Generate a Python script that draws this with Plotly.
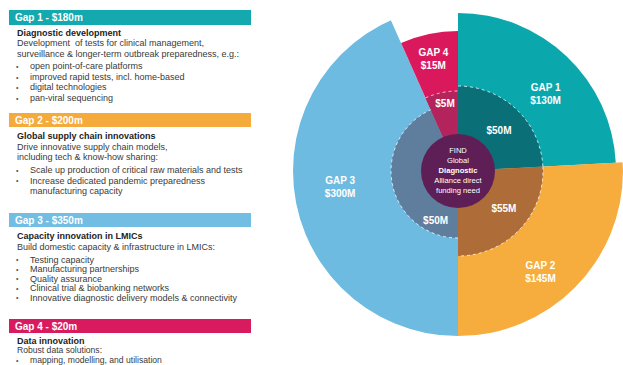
import numpy as np
import plotly.graph_objects as go

W, H = 623, 365

# ---------------- data ----------------
gap_names = ["Gap 1", "Gap 2", "Gap 3", "Gap 4"]
gap_totals = [180, 200, 350, 20]
gap_titles = ["Diagnostic development", "Global supply chain innovations",
              "Capacity innovation in LMICs", "Data innovation"]
gap_intro = [
    ["Development  of tests for clinical management,",
     "surveillance & longer-term outbreak preparedness, e.g.:"],
    ["Drive innovative supply chain models,",
     "including tech & know-how sharing:"],
    ["Build domestic capacity & infrastructure in LMICs:"],
    ["Robust data solutions:"],
]
gap_bullets = [
    ["open point-of-care platforms", "improved rapid tests, incl. home-based",
     "digital technologies", "pan-viral sequencing"],
    ["Scale up production of critical raw materials and tests",
     "Increase dedicated pandemic preparedness", "manufacturing capacity"],
    ["Testing capacity", "Manufacturing partnerships", "Quality assurance",
     "Clinical trial & biobanking networks",
     "Innovative diagnostic delivery models & connectivity"],
    ["mapping, modelling, and utilisation"],
]
# bullet lines that are continuations of the previous bullet (no bullet mark)
bullet_continuation = [[], [2], [], []]

ring_labels = ["GAP 1", "GAP 2", "GAP 3", "GAP 4"]
outer_values = [130, 145, 300, 15]
inner_values = [50, 55, 50, 5]
center_lines = ["FIND", "Global", "<b>Diagnostic</b>", "Alliance direct", "funding need"]

# ---------------- geometry / style ----------------
FONT = "Arial, Liberation Sans, sans-serif"
header_colors = ["#14A9AE", "#F5AA3C", "#71BDE3", "#D81B5E"]
outer_colors = ["#0AA8AD", "#F6AD3D", "#6EBBE2", "#DA195C"]
inner_colors = ["#0B6F78", "#AD6C38", "#5F7E9D", "#B3245C"]
center_color = "#5D1F56"

sector_span = [87, 93, 156, 24]          # degrees, clockwise from 12 o'clock
outer_radius = [158, 172, 181, 140]
inner_radius = [85, 85, 67, 80]
center_radius = 37
outer_label_pos = [(116, 49), (131, 141), (119, 262), (114, 347.5)]
inner_label_pos = [(57, 46), (60, 130), (55, 204), (68, 349)]

# left panel layout (pixels from top)
bar_x0, bar_x1 = 9, 251
bar_y = [(10, 25), (113, 127), (213, 227), (319, 333)]
title_y = [32.5, 136, 236.5, 340.5]
intro_step = [10.5, 10.5, 10.5, 9.8]
bullet_start = [66.5, 170, 259.5, 360]
bullet_step = [10.5, 10.5, 9.6, 9.6]
body_size = [9, 9, 9, 8.6]

center_px = (458, 171)
rho = W - center_px[0]

starts = np.concatenate([[0], np.cumsum(sector_span)[:-1]])
centers = starts + np.array(sector_span) / 2.0

fig = go.Figure()

# outer ring
fig.add_trace(go.Barpolar(
    r=outer_radius, theta=centers, width=sector_span,
    marker=dict(color=outer_colors, line=dict(width=0)),
    hoverinfo="skip", showlegend=False))
# inner ring
fig.add_trace(go.Barpolar(
    r=inner_radius, theta=centers, width=sector_span,
    marker=dict(color=inner_colors, line=dict(width=0)),
    hoverinfo="skip", showlegend=False))
# thin dotted outline on the inner arcs
for s, w, rr in zip(starts, sector_span, inner_radius):
    th = np.linspace(s, s + w, 40)
    fig.add_trace(go.Scatterpolar(
        r=[rr] * len(th), theta=th, mode="lines",
        line=dict(color="rgba(255,255,255,0.75)", width=1, dash="dot"),
        hoverinfo="skip", showlegend=False, cliponaxis=False))
# centre disc
fig.add_trace(go.Barpolar(
    r=[center_radius], theta=[0], width=[360],
    marker=dict(color=center_color, line=dict(width=0)),
    hoverinfo="skip", showlegend=False))

# labels
fig.add_trace(go.Scatterpolar(
    r=[p[0] for p in outer_label_pos], theta=[p[1] for p in outer_label_pos],
    mode="text",
    text=[f"<b>{g}<br>${v}M</b>" for g, v in zip(ring_labels, outer_values)],
    textfont=dict(family=FONT, size=10, color="white"),
    hoverinfo="skip", showlegend=False, cliponaxis=False))
fig.add_trace(go.Scatterpolar(
    r=[p[0] for p in inner_label_pos], theta=[p[1] for p in inner_label_pos],
    mode="text",
    text=[f"<b>${v}M</b>" for v in inner_values],
    textfont=dict(family=FONT, size=10, color="white"),
    hoverinfo="skip", showlegend=False, cliponaxis=False))
fig.add_trace(go.Scatterpolar(
    r=[0], theta=[0], mode="text", text=["<br>".join(center_lines)],
    textfont=dict(family=FONT, size=7.6, color="white"),
    hoverinfo="skip", showlegend=False, cliponaxis=False))

fig.update_layout(
    width=W, height=H, margin=dict(l=0, r=0, t=0, b=0, pad=0),
    paper_bgcolor="white", plot_bgcolor="white", showlegend=False,
    polar=dict(
        domain=dict(x=[(center_px[0] - rho) / W, 1.0],
                    y=[(H - center_px[1] - rho) / H, (H - center_px[1] + rho) / H]),
        bgcolor="rgba(0,0,0,0)", barmode="overlay", bargap=0,
        radialaxis=dict(range=[0, rho], visible=False, showgrid=False),
        angularaxis=dict(rotation=90, direction="clockwise", visible=False,
                         showgrid=False, thetaunit="degrees"),
    ),
)


def px(x):
    return x / W


def py(y):
    return 1 - y / H


shapes = []
annotations = []
for i in range(4):
    y0, y1 = bar_y[i]
    shapes.append(dict(type="rect", xref="paper", yref="paper",
                       x0=px(bar_x0), x1=px(bar_x1), y0=py(y1), y1=py(y0),
                       fillcolor=header_colors[i], line=dict(width=0), layer="below"))
    annotations.append(dict(xref="paper", yref="paper", x=px(13), y=py((y0 + y1) / 2),
                            xanchor="left", yanchor="middle", showarrow=False,
                            text=f"<b>{gap_names[i]} - ${gap_totals[i]}m</b>",
                            font=dict(family=FONT, size=10, color="white")))
    annotations.append(dict(xref="paper", yref="paper", x=px(15), y=py(title_y[i]),
                            xanchor="left", yanchor="middle", showarrow=False,
                            text=f"<b>{gap_titles[i]}</b>",
                            font=dict(family=FONT, size=9, color="#222222")))
    for k, line in enumerate(gap_intro[i]):
        annotations.append(dict(xref="paper", yref="paper", x=px(15),
                                y=py(title_y[i] + (k + 1) * intro_step[i]),
                                xanchor="left", yanchor="middle", showarrow=False,
                                text=line,
                                font=dict(family=FONT, size=body_size[i], color="#3a3a3a")))
    for k, line in enumerate(gap_bullets[i]):
        yy = bullet_start[i] + k * bullet_step[i]
        if k not in bullet_continuation[i]:
            annotations.append(dict(xref="paper", yref="paper", x=px(17), y=py(yy),
                                    xanchor="center", yanchor="middle", showarrow=False,
                                    text="•", font=dict(family=FONT, size=7, color="#555555")))
        annotations.append(dict(xref="paper", yref="paper", x=px(28), y=py(yy),
                                xanchor="left", yanchor="middle", showarrow=False,
                                text=line,
                                font=dict(family=FONT, size=body_size[i], color="#3a3a3a")))

fig.update_layout(shapes=shapes, annotations=annotations)
fig.write_html("out.html")
